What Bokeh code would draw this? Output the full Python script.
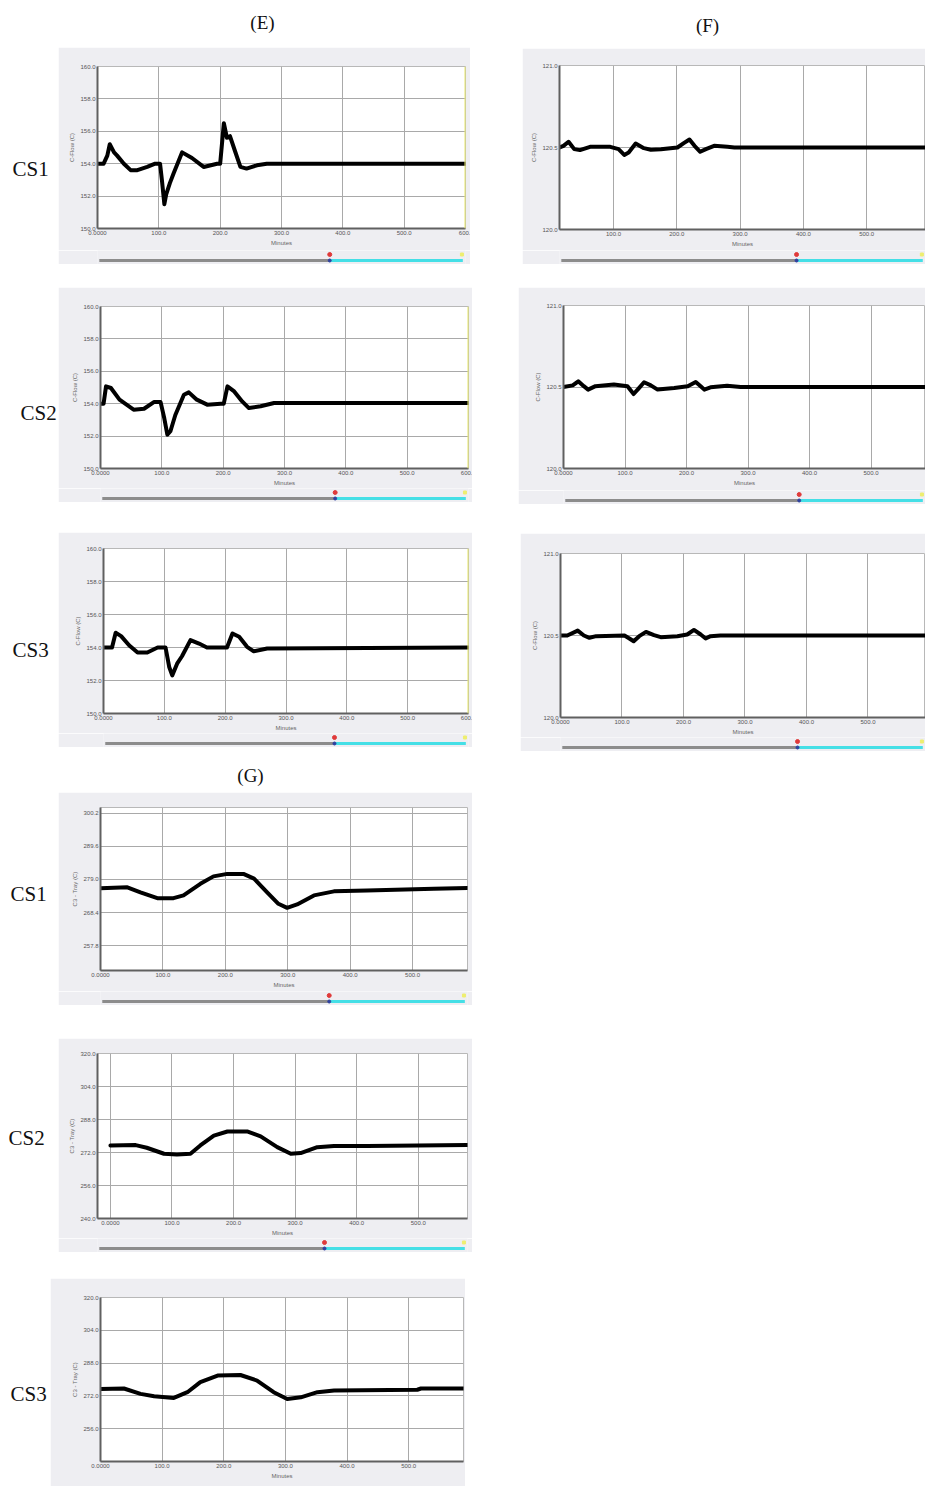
from bokeh.plotting import figure
from bokeh.layouts import row, column, Spacer
from bokeh.models import Range1d, FixedTicker, Span, CustomJSTickFormatter
from bokeh.embed import file_html
from bokeh.resources import INLINE
from bokeh.core.properties import value

# ---------------- data ----------------
E_CS1_MIN = [0, 10, 16, 20, 27, 32, 43, 54, 65, 81, 94, 102, 105, 109, 112, 118, 124, 138, 154, 173,
             195, 200, 206, 211, 216, 224, 233, 243, 260, 276, 600]
E_CS1_VAL = [154.0, 154.0, 154.5, 155.2, 154.7, 154.5, 154.0, 153.6, 153.6, 153.8, 154.0, 154.0, 153.0,
             151.5, 152.1, 152.8, 153.4, 154.7, 154.35, 153.8, 154.0, 154.0, 156.5, 155.6, 155.7, 154.8,
             153.8, 153.7, 153.9, 154.0, 154.0]

E_CS2_MIN = [0, 5, 9, 17, 31, 54, 71, 87, 98, 104, 109, 114, 122, 136, 144, 157, 174, 196, 201, 207,
             218, 231, 242, 261, 283, 600]
E_CS2_VAL = [154.0, 154.0, 155.07, 154.97, 154.25, 153.63, 153.69, 154.1, 154.1, 153.1, 152.09, 152.3,
             153.3, 154.55, 154.7, 154.25, 153.94, 154.0, 154.0, 155.07, 154.76, 154.14, 153.73, 153.84,
             154.04, 154.04]

E_CS3_MIN = [0, 14, 20, 29, 42, 56, 72, 89, 102, 108, 113, 121, 129, 143, 157, 170, 203, 212, 223, 236,
             247, 269, 600]
E_CS3_VAL = [154.0, 154.0, 154.89, 154.69, 154.14, 153.7, 153.7, 154.0, 154.0, 152.82, 152.31, 153.02,
             153.47, 154.45, 154.24, 154.0, 154.0, 154.85, 154.65, 154.04, 153.77, 153.94, 154.0]

F_CS1_MIN = [15, 21, 29, 38, 47, 63, 95, 108, 117, 124, 135, 148, 159, 175, 201, 211, 220, 228, 237, 246,
             259, 280, 291, 600]
F_CS1_VAL = [120.5, 120.51, 120.535, 120.49, 120.484, 120.504, 120.504, 120.49, 120.455, 120.47, 120.524,
             120.496, 120.486, 120.49, 120.5, 120.527, 120.549, 120.51, 120.474, 120.49, 120.51, 120.504,
             120.5, 120.5]

F_CS2_MIN = [0, 15, 24, 33, 40, 52, 82, 104, 114, 122, 131, 142, 153, 180, 202, 215, 223, 229, 239, 266,
             288, 600]
F_CS2_VAL = [120.5, 120.51, 120.535, 120.505, 120.484, 120.505, 120.515, 120.505, 120.457, 120.49, 120.529,
             120.51, 120.484, 120.494, 120.505, 120.531, 120.505, 120.484, 120.498, 120.508, 120.5, 120.5]

F_CS3_MIN = [0, 11, 28, 38, 47, 58, 104, 112, 119, 128, 139, 152, 163, 190, 206, 217, 228, 236, 244, 260, 600]
F_CS3_VAL = [120.5, 120.5, 120.53, 120.5, 120.486, 120.496, 120.5, 120.482, 120.465, 120.496, 120.522,
             120.502, 120.49, 120.496, 120.506, 120.534, 120.506, 120.482, 120.496, 120.5, 120.5]

G_CS1_MIN = [0, 43, 64, 91, 117, 133, 160, 181, 203, 229, 246, 267, 285, 299, 315, 342, 374, 427, 534, 588]
G_CS1_VAL = [276.2, 276.5, 274.9, 273.0, 273.0, 273.9, 277.6, 280.0, 280.8, 280.8, 279.3, 274.9, 271.2,
             269.9, 271.0, 273.9, 275.2, 275.5, 276.0, 276.3]

G_CS2_MIN = [0, 41, 59, 87, 108, 130, 146, 168, 190, 222, 244, 271, 293, 309, 336, 363, 417, 580]
G_CS2_VAL = [275.4, 275.6, 274.3, 271.4, 271.0, 271.4, 275.4, 280.2, 282.2, 282.2, 279.8, 274.6, 271.4,
             271.7, 274.6, 275.1, 275.1, 275.6]

G_CS3_MIN = [0, 38, 65, 87, 119, 141, 162, 190, 227, 254, 281, 303, 325, 352, 379, 514, 520, 589]
G_CS3_VAL = [275.4, 275.6, 273.0, 271.8, 271.0, 273.8, 278.7, 281.9, 282.2, 279.5, 273.8, 270.5, 271.3,
             273.8, 274.6, 275.0, 275.6, 275.6]

# tick values and labels
X_TICKS_600 = [0, 100, 200, 300, 400, 500, 600]
X_LABELS_600 = ["0.0000", "100.0", "200.0", "300.0", "400.0", "500.0", "600."]
X_TICKS_500 = [0, 100, 200, 300, 400, 500]
X_LABELS_500 = ["0.0000", "100.0", "200.0", "300.0", "400.0", "500.0"]
E_Y_TICKS = [150, 152, 154, 156, 158, 160]
E_Y_LABELS = ["150.0", "152.0", "154.0", "156.0", "158.0", "160.0"]
F_Y_TICKS = [120.0, 120.5, 121.0]
F_Y_LABELS = ["120.0", "120.5", "121.0"]
G1_Y_TICKS = [257.8, 268.4, 279.0, 289.6, 300.2]
G1_Y_LABELS = ["257.8", "268.4", "279.0", "289.6", "300.2"]
G2_Y_TICKS = [240, 256, 272, 288, 304, 320]
G2_Y_LABELS = ["240.0", "256.0", "272.0", "288.0", "304.0", "320.0"]
G3_Y_TICKS = [256, 272, 288, 304, 320]
G3_Y_LABELS = ["256.0", "272.0", "288.0", "304.0", "320.0"]

TITLES = ["(E)", "(F)", "(G)"]
ROW_LABELS = ["CS1", "CS2", "CS3"]
X_LABEL = "Minutes"
Y_LABEL_EF = "C-Flow (C)"
Y_LABEL_G = "C3 - Tray (C)"

# ---------------- styling ----------------
BOX = "#eeeef2"
SANS = "Liberation Sans"
SERIF = "Liberation Serif"


def fmt(tick_vals, tick_texts):
    return CustomJSTickFormatter(args=dict(tv=tick_vals, tt=tick_texts), code="""
        for (let i = 0; i < tv.length; i++) {
            if (Math.abs(tv[i] - tick) < 1e-6) { return tt[i]; }
        }
        return '';
    """)


def panel(w, h, L, R, T, B, xr, yr, xt, xl, yt, yl, t, v, ylab, yellow=False):
    p = figure(width=w, height=h, x_range=Range1d(*xr), y_range=Range1d(*yr),
               output_backend="svg", toolbar_location=None,
               min_border_left=L, min_border_right=R, min_border_top=T, min_border_bottom=B)
    p.border_fill_color = BOX
    p.background_fill_color = "white"
    p.outline_line_color = "#b8b8b8"
    p.outline_line_width = 1
    for ax, ticks, labels in ((p.xaxis[0], xt, xl), (p.yaxis[0], yt, yl)):
        ax.ticker = FixedTicker(ticks=ticks)
        ax.formatter = fmt(ticks, labels)
        ax.major_label_text_font = SANS
        ax.major_label_text_font_size = "6px"
        ax.major_label_text_color = "#555555"
        ax.major_label_standoff = 2
        ax.major_tick_line_color = None
        ax.major_tick_out = 0
        ax.major_tick_in = 0
        ax.minor_tick_line_color = None
        ax.axis_line_color = "#606060"
        ax.axis_line_width = 2
        ax.axis_label_text_font = SANS
        ax.axis_label_text_font_size = "6px"
        ax.axis_label_text_font_style = "normal"
        ax.axis_label_text_color = "#666666"
        ax.axis_label_standoff = 2
    p.xaxis[0].axis_label = X_LABEL
    p.yaxis[0].axis_label = ylab
    p.grid.grid_line_color = "#a9a9a9"
    p.grid.grid_line_width = 1
    if yellow:
        p.add_layout(Span(location=xr[1], dimension="height", line_color="#e9e96a", line_width=2))
    p.line(t, v, line_color="black", line_width=4, line_join="round", line_cap="round")
    return p


def strip(w, h, split, line_top=10, dot_top=4):
    s = figure(width=w, height=h, x_range=Range1d(0, w), y_range=Range1d(0, h),
               x_axis_location=None, y_axis_location=None, min_border=0,
               output_backend="svg", toolbar_location=None)
    s.grid.visible = False
    s.outline_line_color = None
    s.background_fill_color = BOX
    s.border_fill_color = BOX
    y = h - line_top
    s.segment(x0=[2], y0=[y], x1=[split], y1=[y], line_color="#8c8c8c", line_width=3)
    s.segment(x0=[split], y0=[y], x1=[w - 3], y1=[y], line_color="#45dfe6", line_width=3)
    s.scatter([split], [y], size=3, color="#3040a0")
    s.scatter([split], [h - dot_top], size=4, color="#e03a3a")
    s.scatter([w - 4], [h - dot_top], size=3, color="#eeee70", marker="square")
    return s


def text_fig(w, h, txt, x, y_top, size, align="left"):
    f = figure(width=w, height=h, x_range=Range1d(0, w), y_range=Range1d(0, h),
               x_axis_location=None, y_axis_location=None, min_border=0,
               output_backend="svg", toolbar_location=None)
    f.grid.visible = False
    f.outline_line_color = None
    f.text(x=[x], y=[h - y_top], text=[txt], text_font=value(SERIF), text_font_size=size,
           text_baseline="middle", text_align=align, text_color="#111111")
    return f


LBL = "21px"
TTL = "19px"

# ---------------- left column: (E) and (G) ----------------
e1 = panel(412, 203, 39, 5, 19, 22, (0, 600), (150, 160), X_TICKS_600, X_LABELS_600,
           E_Y_TICKS, E_Y_LABELS, E_CS1_MIN, E_CS1_VAL, Y_LABEL_EF, yellow=True)
e2 = panel(414, 201, 42, 4, 19, 20, (0, 600), (150, 160), X_TICKS_600, X_LABELS_600,
           E_Y_TICKS, E_Y_LABELS, E_CS2_MIN, E_CS2_VAL, Y_LABEL_EF, yellow=True)
e3 = panel(414, 201, 45, 4, 16, 20, (0, 600), (150, 160), X_TICKS_600, X_LABELS_600,
           E_Y_TICKS, E_Y_LABELS, E_CS3_MIN, E_CS3_VAL, Y_LABEL_EF, yellow=True)
g1 = panel(414, 199, 42, 5, 15, 21, (0, 588), (249.8, 302.1), X_TICKS_500, X_LABELS_500,
           G1_Y_TICKS, G1_Y_LABELS, G_CS1_MIN, G_CS1_VAL, Y_LABEL_G)
g2 = panel(414, 200, 39, 5, 15, 20, (-21, 580), (240, 320), X_TICKS_500, X_LABELS_500,
           G2_Y_TICKS, G2_Y_LABELS, G_CS2_MIN, G_CS2_VAL, Y_LABEL_G)
g3 = panel(415, 208, 50, 2, 19, 25, (0, 589), (240, 320), X_TICKS_500, X_LABELS_500,
           G3_Y_TICKS, G3_Y_LABELS, G_CS3_MIN, G_CS3_VAL, Y_LABEL_G)

left = column(
    text_fig(464, 39, TITLES[0], 254, 14, TTL, "center"),
    row(text_fig(50, 217, ROW_LABELS[0], 4, 121, LBL), column(e1, strip(412, 14, 260))),
    Spacer(width=464, height=23),
    row(text_fig(50, 215, ROW_LABELS[1], 12, 125, LBL), column(e2, strip(414, 14, 264))),
    Spacer(width=464, height=30),
    row(text_fig(50, 215, ROW_LABELS[2], 4, 117, LBL), column(e3, strip(414, 14, 262))),
    text_fig(464, 45, TITLES[2], 242, 28, TTL, "center"),
    row(text_fig(50, 213, ROW_LABELS[0], 2, 101, LBL), column(g1, strip(414, 14, 258))),
    Spacer(width=464, height=33),
    row(text_fig(50, 214, ROW_LABELS[1], 0, 99, LBL), column(g2, strip(414, 14, 254))),
    Spacer(width=464, height=26),
    row(text_fig(42, 212, ROW_LABELS[2], 2, 115, LBL), column(g3, strip(415, 4, 262, 2, 1))),
)

# ---------------- right column: (F) ----------------
f1 = panel(403, 202, 37, 0, 17, 21, (14.7, 592.9), (120.0, 121.0), X_TICKS_600, X_LABELS_600,
           F_Y_TICKS, F_Y_LABELS, F_CS1_MIN, F_CS1_VAL, Y_LABEL_EF)
f2 = panel(407, 203, 45, 0, 18, 22, (0, 588.6), (120.0, 121.0), X_TICKS_600, X_LABELS_600,
           F_Y_TICKS, F_Y_LABELS, F_CS2_MIN, F_CS2_VAL, Y_LABEL_EF)
f3 = panel(405, 204, 40, 0, 20, 20, (0, 593.5), (120.0, 121.0), X_TICKS_600, X_LABELS_600,
           F_Y_TICKS, F_Y_LABELS, F_CS3_MIN, F_CS3_VAL, Y_LABEL_EF)

right = column(
    text_fig(407, 40, TITLES[1], 189, 17, TTL, "center"),
    row(Spacer(width=4, height=216), column(f1, strip(403, 14, 261))),
    Spacer(width=407, height=23),
    column(f2, strip(407, 14, 265)),
    Spacer(width=407, height=29),
    row(Spacer(width=2, height=218), column(f3, strip(405, 14, 263))),
)

layout = column(
    Spacer(width=925, height=8),
    row(Spacer(width=8, height=10), left, Spacer(width=46, height=10), right),
)

open("out.html", "w").write(file_html(layout, INLINE))
